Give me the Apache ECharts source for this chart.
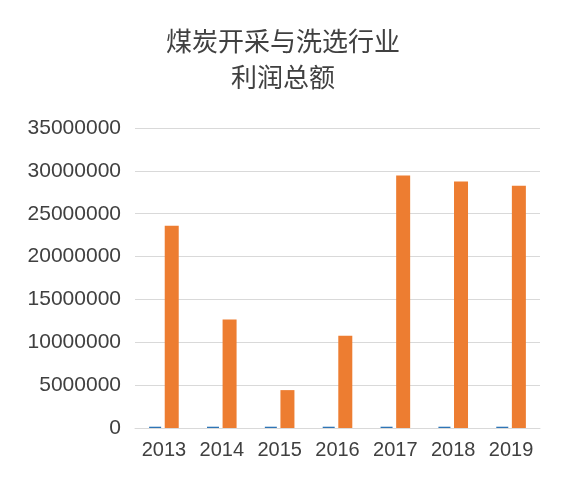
<!DOCTYPE html>
<html><head><meta charset="utf-8">
<script src="https://cdn.jsdelivr.net/npm/echarts@6/dist/echarts.min.js"></script>
<style>html,body{margin:0;background:#fff}#c{width:566px;height:494px}</style>
</head><body><div id="c"></div>
<script>
var years = ['2013', '2014', '2015', '2016', '2017', '2018', '2019'];
var seriesA = [150000, 150000, 150000, 150000, 150000, 150000, 150000];
var seriesB = [23600000, 12650000, 4420000, 10750000, 29450000, 28750000, 28250000];

var chart = echarts.init(document.getElementById('c'));
chart.setOption({
    animation: false,
    title: {
        text: '煤炭开采与洗选行业\n利润总额', left: 'center', top: 18,
        textStyle: { fontFamily: 'Noto Sans CJK SC', fontSize: 26, fontWeight: 'normal', color: '#404040', lineHeight: 36 }
    },
    grid: { left: 135, right: 26, top: 128, bottom: 66 },
    xAxis: {
        type: 'category', data: years,
        axisTick: { show: false },
        axisLine: { lineStyle: { color: '#d9d9d9' } },
        axisLabel: { fontSize: 20, color: '#404040', margin: 12, interval: 0, hideOverlap: false }
    },
    yAxis: {
        type: 'value', min: 0, max: 35000000, interval: 5000000,
        axisLabel: { fontSize: 21, color: '#404040', margin: 14, formatter: function (v) { return String(v); } },
        splitLine: { lineStyle: { color: '#d9d9d9' } }
    },
    series: [
        { type: 'bar', data: seriesA, barWidth: 12, barGap: '30%', itemStyle: { color: '#2e75b6' } },
        { type: 'bar', data: seriesB, barWidth: 14, itemStyle: { color: '#ed7d31' } }
    ]
});
</script></body></html>
